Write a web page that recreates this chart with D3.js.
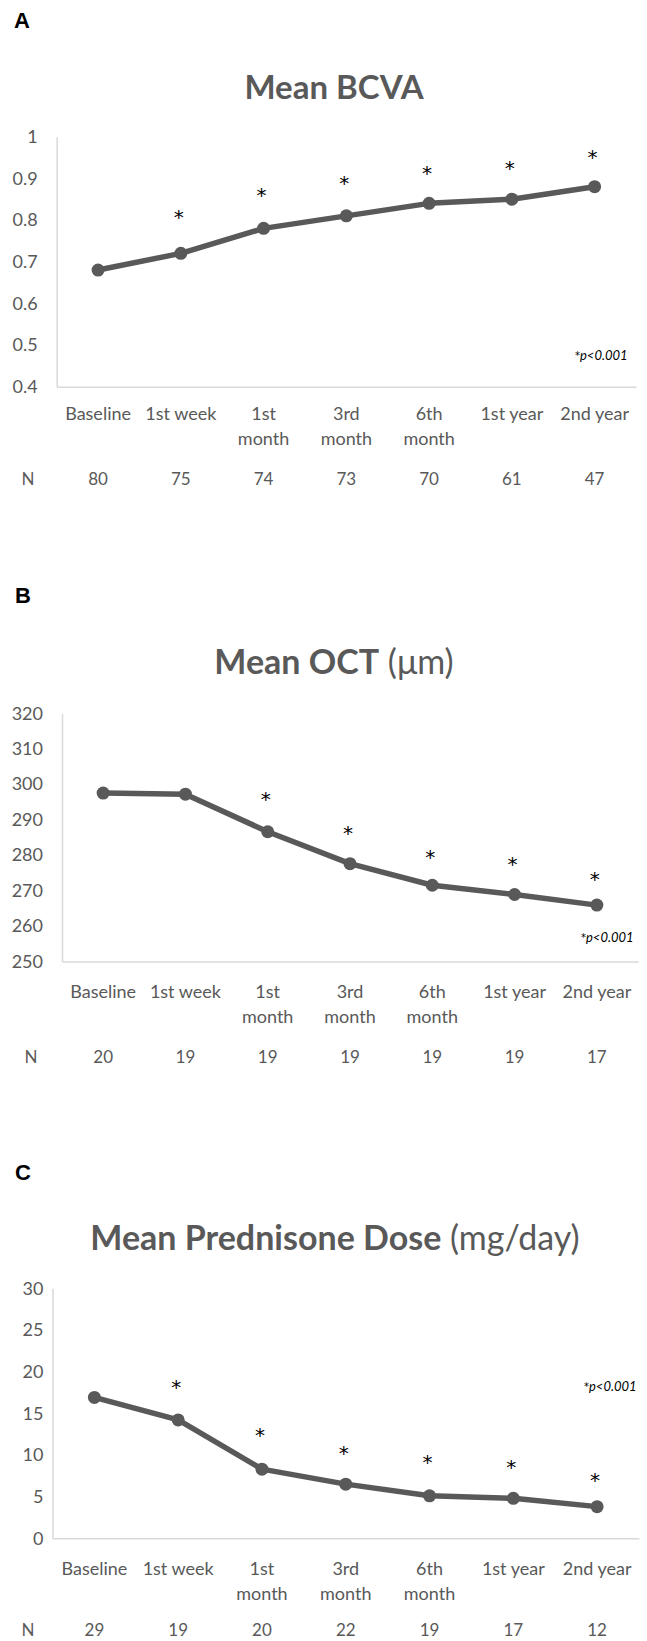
<!DOCTYPE html>
<html>
<head>
<meta charset="utf-8">
<script src="https://cdn.jsdelivr.net/npm/d3@7"></script>
<style>
  html, body { margin: 0; padding: 0; background: #fff; }
  svg { display: block; }
</style>
</head>
<body>
<svg id="chart" width="647" height="1641"></svg>
<script>
// ---------- DATA ----------
const categories = [["Baseline"], ["1st week"], ["1st", "month"], ["3rd", "month"], ["6th", "month"], ["1st year"], ["2nd year"]];

const bcvaValues = [0.68, 0.72, 0.78, 0.81, 0.84, 0.85, 0.88];
const bcvaStars  = [null, 0.817, 0.87, 0.898, 0.923, 0.935, 0.961];
const bcvaN      = [80, 75, 74, 73, 70, 61, 47];
const bcvaTicks  = [0.4, 0.5, 0.6, 0.7, 0.8, 0.9, 1];

const octValues = [297.5, 297.2, 286.6, 277.6, 271.5, 268.9, 265.9];
const octStars  = [null, null, 297.0, 287.4, 280.6, 278.5, 274.3];
const octN      = [20, 19, 19, 19, 19, 19, 17];
const octTicks  = [250, 260, 270, 280, 290, 300, 310, 320];

const predValues = [16.9, 14.2, 8.3, 6.5, 5.1, 4.8, 3.8];
const predStars  = [null, 18.6, 12.9, 10.7, 9.6, 9.0, 7.5];
const predN      = [29, 19, 20, 22, 19, 17, 12];
const predTicks  = [0, 5, 10, 15, 20, 25, 30];

const pText = "p<0.001";

// ---------- DRAW ----------
const svg = d3.select("#chart");
const GRAY = "#595959";
const AXIS = "#d9d9d9";
const FONT = "Lato, 'Open Sans', sans-serif";

function panel(cfg) {
  const g = svg.append("g");
  // panel letter
  g.append("text").attr("x", cfg.letterX).attr("y", cfg.letterY)
    .attr("font-family", "'Liberation Sans', Arial, sans-serif")
    .attr("font-weight", "bold").attr("font-size", 22).attr("fill", "#000")
    .text(cfg.letter);

  // title
  const t = g.append("text").attr("x", cfg.titleX).attr("y", cfg.titleY)
    .attr("text-anchor", "middle").attr("font-family", FONT)
    .attr("font-size", cfg.titleSize).attr("fill", GRAY);
  t.append("tspan").attr("font-weight", "bold").text(cfg.titleBold);
  if (cfg.titleUnit) t.append("tspan").attr("font-weight", "normal").text(" " + cfg.titleUnit);

  const x = d3.scaleBand().domain(d3.range(categories.length)).range([cfg.left, cfg.right]);
  const y = d3.scaleLinear().domain(cfg.domain).range([cfg.bottom, cfg.top]);

  // y axis
  const yAxis = d3.axisLeft(y).tickValues(cfg.ticks).tickSize(0).tickPadding(cfg.tickPad)
    .tickFormat(d => String(d));
  const ya = g.append("g").attr("transform", `translate(${cfg.left},0)`).call(yAxis);
  ya.select(".domain").attr("stroke", AXIS).attr("stroke-width", 1.5);
  ya.selectAll("text").attr("font-family", FONT).attr("font-size", 18).attr("fill", GRAY);

  // x axis
  const xAxis = d3.axisBottom(x).tickSize(0).tickFormat(() => "");
  const xa = g.append("g").attr("transform", `translate(0,${cfg.bottom})`).call(xAxis);
  xa.select(".domain").attr("stroke", AXIS).attr("stroke-width", 1.5);

  // category labels
  categories.forEach((lines, i) => {
    const tx = g.append("text").attr("x", x(i) + x.bandwidth() / 2)
      .attr("text-anchor", "middle").attr("font-family", FONT)
      .attr("font-size", 18).attr("fill", GRAY);
    lines.forEach((l, j) => {
      tx.append("tspan").attr("x", x(i) + x.bandwidth() / 2)
        .attr("y", cfg.bottom + cfg.labelOff + j * 25).attr("dy", "0.35em").text(l);
    });
  });

  // N row
  g.append("text").attr("x", cfg.nX).attr("y", cfg.bottom + cfg.nOff).attr("dy", "0.35em")
    .attr("text-anchor", "middle").attr("font-family", FONT).attr("font-size", 17)
    .attr("fill", GRAY).text("N");
  g.selectAll(".nval").data(cfg.n).enter().append("text")
    .attr("x", (d, i) => x(i) + x.bandwidth() / 2).attr("y", cfg.bottom + cfg.nOff)
    .attr("dy", "0.35em").attr("text-anchor", "middle").attr("font-family", FONT)
    .attr("font-size", 17).attr("fill", GRAY).text(d => d);

  // line
  const line = d3.line().x((d, i) => x(i) + x.bandwidth() / 2).y(d => y(d));
  g.append("path").datum(cfg.values).attr("d", line).attr("fill", "none")
    .attr("stroke", GRAY).attr("stroke-width", 5.5).attr("stroke-linejoin", "round");
  g.selectAll(".pt").data(cfg.values).enter().append("circle")
    .attr("cx", (d, i) => x(i) + x.bandwidth() / 2).attr("cy", d => y(d))
    .attr("r", 6.5).attr("fill", GRAY);

  // asterisks
  g.selectAll(".star").data(cfg.stars.map((v, i) => ({ v, i })).filter(d => d.v != null))
    .enter().append("text")
    .attr("x", d => x(d.i) + x.bandwidth() / 2 - 2)
    .attr("y", d => y(d.v) + 11)
    .attr("text-anchor", "middle").attr("font-family", "'DejaVu Sans', sans-serif")
    .attr("font-size", 20).attr("fill", "#000").text("*");

  // p-value note
  const p = g.append("text").attr("x", cfg.pX).attr("y", cfg.pY).attr("dy", "0.35em")
    .attr("text-anchor", "start").attr("font-family", FONT).attr("font-size", 13).attr("fill", "#000");
  p.append("tspan").attr("font-family", "'DejaVu Sans', sans-serif").attr("font-size", 10)
    .attr("dy", "-0.15em").text("*");
  p.append("tspan").attr("font-style", "italic").attr("dy", "0.15em").text(pText);
}

panel({
  letter: "A", letterX: 14, letterY: 28,
  titleBold: "Mean BCVA", titleUnit: null, titleX: 334, titleY: 99, titleSize: 33,
  left: 56.7, right: 636, top: 136.7, bottom: 386.7, domain: [0.4, 1], ticks: bcvaTicks, tickPad: 19,
  values: bcvaValues, stars: bcvaStars, n: bcvaN,
  labelOff: 27, nOff: 92, nX: 28, pX: 575, pY: 360
});

panel({
  letter: "B", letterX: 15, letterY: 603,
  titleBold: "Mean OCT", titleUnit: "(μm)", titleX: 334, titleY: 674, titleSize: 34,
  left: 62, right: 638, top: 713.3, bottom: 961.5, domain: [250, 320], ticks: octTicks, tickPad: 19,
  values: octValues, stars: octStars, n: octN,
  labelOff: 30, nOff: 96, nX: 31, pX: 581, pY: 942
});

panel({
  letter: "C", letterX: 15, letterY: 1180,
  titleBold: "Mean Prednisone Dose", titleUnit: "(mg/day)", titleX: 335, titleY: 1250, titleSize: 34,
  left: 52.5, right: 639, top: 1288.3, bottom: 1538.3, domain: [0, 30], ticks: predTicks, tickPad: 9,
  values: predValues, stars: predStars, n: predN,
  labelOff: 30, nOff: 92, nX: 28, pX: 584, pY: 1391
});
</script>
</body>
</html>
